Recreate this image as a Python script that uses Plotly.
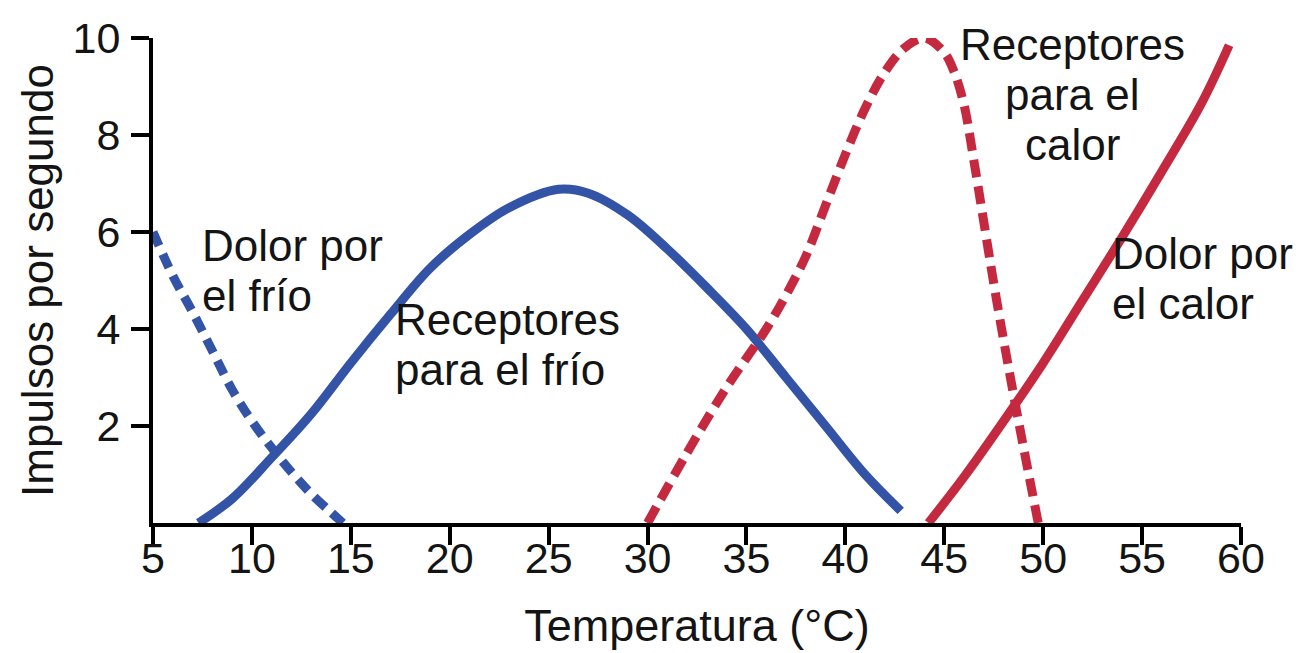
import plotly.graph_objects as go

# Dolor por el frío (azul, discontinua)
temp_dolor_frio = [5, 6, 7, 8, 9, 10, 11, 12, 13, 14, 14.6]
imp_dolor_frio = [6.0, 5.1, 4.35, 3.55, 2.75, 2.1, 1.55, 1.05, 0.6, 0.22, 0.0]

# Receptores para el frío (azul, continua)
temp_rec_frio = [7.3, 9, 11, 13, 15, 17, 19, 21, 23, 25.5, 27, 29, 31, 33, 35, 37, 39, 41, 42.8]
imp_rec_frio = [0.0, 0.5, 1.35, 2.25, 3.3, 4.3, 5.25, 5.95, 6.5, 6.88, 6.8, 6.35, 5.65, 4.85, 4.0, 3.0, 2.0, 1.0, 0.25]

# Receptores para el calor (rojo, discontinua)
temp_rec_calor = [30, 32, 34, 36, 37, 38, 39, 40, 41, 42, 43, 44, 45, 45.5, 46, 46.5, 47, 47.6, 48.6, 49.75]
imp_rec_calor = [0.0, 1.45, 2.8, 4.0, 4.7, 5.5, 6.55, 7.6, 8.55, 9.3, 9.8, 10.0, 9.7, 9.3, 8.62, 7.46, 6.2, 4.7, 2.43, 0.0]

# Dolor por el calor (rojo, continua)
temp_dolor_calor = [44.2, 46, 48, 50, 52, 54, 56, 58, 59.4]
imp_dolor_calor = [0.0, 0.95, 2.1, 3.3, 4.6, 5.9, 7.25, 8.65, 9.85]

x_ticks = [5, 10, 15, 20, 25, 30, 35, 40, 45, 50, 55, 60]
y_ticks = [2, 4, 6, 8, 10]

AZUL = '#3253A6'
ROJO = '#C4293F'
TEXTO = '#141414'
FONTE = 'Liberation Sans, Arial, sans-serif'

fig = go.Figure()

fig.add_trace(go.Scatter(x=temp_dolor_frio, y=imp_dolor_frio, mode='lines',
                         line=dict(color=AZUL, width=9, dash='15px,9px', shape='spline')))
fig.add_trace(go.Scatter(x=temp_rec_frio, y=imp_rec_frio, mode='lines',
                         line=dict(color=AZUL, width=9, shape='spline', smoothing=1)))
fig.add_trace(go.Scatter(x=temp_rec_calor, y=imp_rec_calor, mode='lines',
                         line=dict(color=ROJO, width=9, dash='18px,9px', shape='spline')))
fig.add_trace(go.Scatter(x=temp_dolor_calor, y=imp_dolor_calor, mode='lines',
                         line=dict(color=ROJO, width=9, shape='spline')))

# textos sobre las curvas, una anotación por línea para controlar el interlineado
rotulos = [
    (7.4, 5.72, ['Dolor por', 'el frío'], 'left'),
    (17.15, 4.2, ['Receptores', 'para el frío'], 'left'),
    (51.46, 9.87, ['Receptores', 'para el', 'calor'], 'center'),
    (53.4, 5.55, ['Dolor por', 'el calor'], 'left'),
]
for x, y, lineas, anc in rotulos:
    for i, txt in enumerate(lineas):
        fig.add_annotation(x=x, y=y, text=txt, showarrow=False, xanchor=anc, yanchor='middle',
                           yshift=-50 * i, font=dict(size=44, color=TEXTO, family=FONTE))

fig.update_layout(
    width=1304, height=653,
    margin=dict(l=145, r=71, t=30, b=138),
    plot_bgcolor='white', paper_bgcolor='white',
    showlegend=False,
    font=dict(family=FONTE, color=TEXTO, size=43),
    xaxis=dict(range=[5, 60], tickvals=x_ticks, showline=True, linewidth=4, linecolor='black',
               ticks='outside', ticklen=18, tickwidth=4, tickcolor='black', showgrid=False,
               zeroline=False, ticklabelstandoff=-24, automargin=False,
               title=dict(text='Temperatura (°C)', standoff=30, font=dict(size=45))),
    yaxis=dict(range=[0, 10], tickvals=y_ticks, showline=True, linewidth=4, linecolor='black',
               ticks='outside', ticklen=18, tickwidth=4, tickcolor='black', showgrid=False,
               zeroline=False, ticklabelstandoff=2, automargin=False,
               title=dict(text='Impulsos por segundo', standoff=6, font=dict(size=44))),
)

fig.write_html("out.html")
